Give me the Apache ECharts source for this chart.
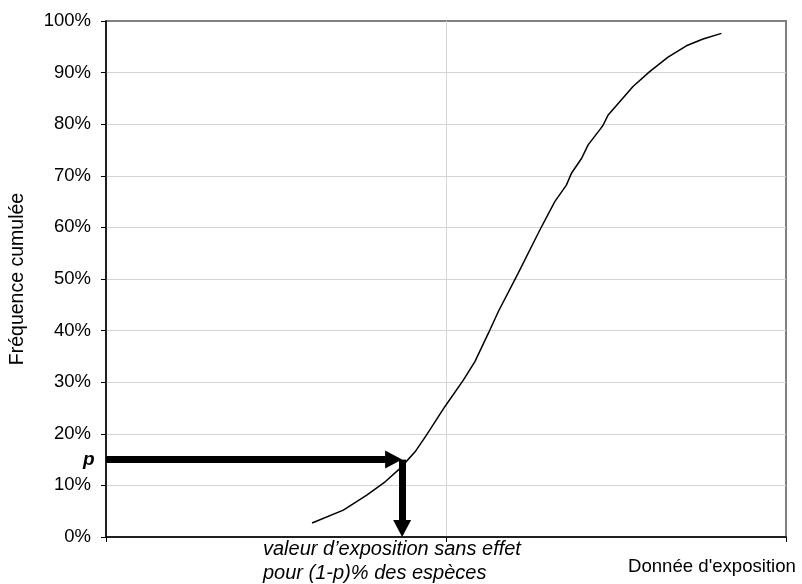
<!DOCTYPE html>
<html>
<head>
<meta charset="utf-8">
<script src="https://cdn.jsdelivr.net/npm/echarts@6/dist/echarts.min.js"></script>
<style>html,body{margin:0;padding:0;background:#fff;}#c{width:802px;height:584px;}</style>
</head>
<body>
<div id="c"></div>
<script>
// Curve: cumulative frequency (%) vs exposure (relative units, axis 0..2)
const exposure = [0.606,0.698,0.767,0.821,0.865,0.909,0.943,0.997,1.051,1.085,1.124,1.154,1.212,1.276,1.320,1.354,1.369,1.399,1.418,1.452,1.462,1.477,1.550,1.599,1.653,1.707,1.756,1.810];
const freq     = [2.7,5.2,8.1,10.7,13.3,16.5,19.8,25.3,30.4,34.0,39.4,43.7,51.1,59.5,65.0,68.2,70.5,73.4,76.0,78.9,79.8,81.8,87.3,90.2,93.0,95.2,96.5,97.6];
const yTicks = [0,10,20,30,40,50,60,70,80,90,100];
// Annotation: p level and corresponding exposure value
const pLevel = 15;
const xP = 0.871;
const hArrowEnd = 0.846;   // centre of horizontal arrowhead
const vArrowEnd = 1.65;    // centre of vertical arrowhead

const chart = echarts.init(document.getElementById('c'), null, {renderer:'canvas'});
const font = 'Liberation Sans, Arial, Helvetica, sans-serif';
chart.setOption({
  animation:false,
  grid:{left:105.5,right:16,top:21,bottom:47,show:true,borderColor:'#808080',borderWidth:2,backgroundColor:'transparent'},
  xAxis:{
    type:'value',min:0,max:2,interval:1,
    axisLine:{show:true,onZero:false,lineStyle:{color:'#000',width:1.5}},
    axisTick:{show:true,length:5,lineStyle:{color:'#000'}},
    axisLabel:{show:false},
    splitLine:{show:true,showMinLine:false,showMaxLine:false,lineStyle:{color:'#d4d4d4',width:1}}
  },
  yAxis:{
    type:'value',min:0,max:100,interval:10,
    name:'Fréquence cumulée',nameLocation:'middle',nameRotate:90,nameGap:78,
    nameTextStyle:{fontFamily:font,fontSize:19.5,color:'#000'},
    axisLine:{show:true,lineStyle:{color:'#000',width:1.5}},
    axisTick:{show:true,length:5,lineStyle:{color:'#000'}},
    axisLabel:{formatter:'{value}%',fontFamily:font,fontSize:18.5,color:'#000',margin:15},
    splitLine:{show:true,showMinLine:false,showMaxLine:false,lineStyle:{color:'#d4d4d4',width:1}}
  },
  series:[{
    type:'line',
    data:exposure.map((x,i)=>[x,freq[i]]),
    showSymbol:false,symbol:'none',
    lineStyle:{color:'#000',width:1.5},
    z:3,
    markLine:{
      silent:true,
      symbol:['none','triangle'],
      symbolSize:[18,17],
      label:{show:false},
      lineStyle:{color:'#000',width:7,type:'solid'},
      data:[
        [{coord:[0,pLevel]},{coord:[hArrowEnd,pLevel]}],
        [{coord:[xP,pLevel]},{coord:[xP,vArrowEnd]}]
      ]
    }
  }],
  graphic:[
    {type:'text',left:83,top:450,style:{text:'p',font:'italic bold 19px '+font,fill:'#000'}},
    {type:'text',left:263,top:537,style:{text:'valeur d\u2019exposition sans effet\npour (1-p)% des espèces',font:'italic 20px '+font,fill:'#000',lineHeight:24}},
    {type:'text',left:628,top:557,style:{text:'Donnée d\'exposition',font:'18.6px '+font,fill:'#000'}}
  ]
});
</script>
</body>
</html>
